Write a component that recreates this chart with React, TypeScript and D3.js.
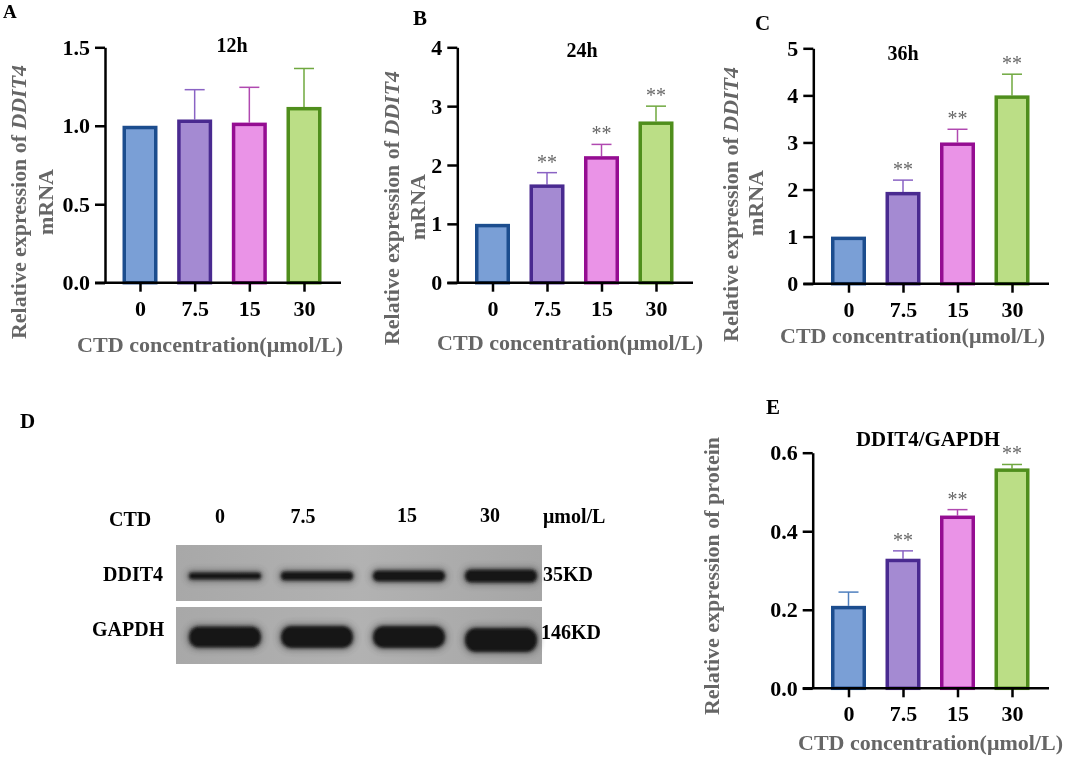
import React, { useEffect, useRef } from 'react';
import * as d3 from 'd3';

const doses = ['0', '7.5', '15', '30'];

// bar heights and the top of each error bar
const values12h = [1.0, 1.04, 1.02, 1.12];
const tops12h = [1.0, 1.23, 1.245, 1.365];
const values24h = [1.0, 1.67, 2.15, 2.74];
const tops24h = [1.0, 1.87, 2.35, 3.0];
const values36h = [1.0, 1.95, 3.0, 4.0];
const tops36h = [1.0, 2.2, 3.28, 4.45];
const valuesProtein = [0.21, 0.33, 0.44, 0.56];
const topsProtein = [0.245, 0.35, 0.455, 0.57];

const ticks12h = [0, 0.5, 1.0, 1.5];
const ticks24h = [0, 1, 2, 3, 4];
const ticks36h = [0, 1, 2, 3, 4, 5];
const ticksProtein = [0, 0.2, 0.4, 0.6];

const noStars = [false, false, false, false];
const stars = [false, true, true, true];

// band thickness on the blot
const ddit4Bands = [7, 9, 11, 13];
const gapdhBands = [21, 22, 22, 24];

const fills = ['#7a9fd6', '#a48ad2', '#ea93e7', '#bbde86'];
const strokes = ['#1f4d8e', '#4a2a90', '#951092', '#4f8e1d'];
const whiskers = ['#4f7fbe', '#8a63c4', '#b04ab0', '#6fa83f'];

const SERIF = '"Liberation Serif", serif';
const GREY = '#666666';

type PanelProps = {
	values: number[];
	tops: number[];
	ticks: number[];
	marks: boolean[];
	max: number;
	format: string;
	axisX: number;
	axisY: number;
	axisTop: number;
	first: number;
	last: number;
	right: number;
	labelY: number;
};

function Panel(p: PanelProps): JSX.Element {
	const ref = useRef<SVGGElement | null>(null);
	useEffect(() => {
		if (!ref.current) return;
		const g = d3.select(ref.current);
		g.selectAll('*').remove();
		const x = d3.scalePoint<string>().domain(doses).range([p.first, p.last]);
		const y = d3.scaleLinear().domain([0, p.max]).range([p.axisY, p.axisTop]);
		const barW = 35;
		const sw = 3.5;

		doses.forEach((d, i) => {
			const cx = x(d) as number;
			if (p.tops[i] > p.values[i]) {
				g.append('line').attr('x1', cx).attr('x2', cx).attr('y1', y(p.values[i])).attr('y2', y(p.tops[i])).attr('stroke', whiskers[i]).attr('stroke-width', 1.5);
				g.append('line').attr('x1', cx - 10).attr('x2', cx + 10).attr('y1', y(p.tops[i])).attr('y2', y(p.tops[i])).attr('stroke', whiskers[i]).attr('stroke-width', 1.5);
			}
			g.append('rect').attr('x', cx - barW / 2 + sw / 2).attr('width', barW - sw).attr('y', y(p.values[i]) + sw / 2).attr('height', p.axisY - y(p.values[i]) - sw / 2)
				.attr('fill', fills[i]).attr('stroke', strokes[i]).attr('stroke-width', sw);
			if (p.marks[i]) {
				g.append('text').attr('x', cx).attr('y', y(p.tops[i]) - 4).attr('text-anchor', 'middle').attr('fill', '#666').style('font-size', '20px').text('**');
			}
		});

		const left = d3.axisLeft(y).tickValues(p.ticks).tickFormat(d3.format(p.format) as any).tickSize(10).tickSizeOuter(0).tickPadding(5);
		const yAxis = g.append('g').attr('transform', `translate(${p.axisX},0)`).call(left as any);
		const bottom = d3.axisBottom(x).tickSize(9).tickSizeOuter(0).tickPadding(11);
		const xAxis = g.append('g').attr('transform', `translate(0,${p.axisY})`).call(bottom as any);
		xAxis.select('.domain').remove();
		g.append('line').attr('x1', p.axisX - 10).attr('x2', p.right).attr('y1', p.axisY).attr('y2', p.axisY).attr('stroke', '#000').attr('stroke-width', 2.5);
		for (const a of [yAxis, xAxis]) {
			a.selectAll('line').attr('stroke', '#000').attr('stroke-width', 2.5);
			a.selectAll('path').attr('stroke', '#000').attr('stroke-width', 2.5);
			a.selectAll('text').attr('fill', '#000').style('font-family', SERIF).style('font-weight', 'bold').style('font-size', '22px');
		}
		xAxis.selectAll('text').attr('y', p.labelY - p.axisY).attr('dy', 0);
	}, [p]);
	return <g ref={ref} />;
}

function YLabel({ x, y, length, children }: { x: number; y: number; length: number; children: React.ReactNode }): JSX.Element {
	return (
		<text transform={`translate(${x},${y}) rotate(-90)`} fill={GREY} fontWeight="bold" fontSize={21} textLength={length} lengthAdjust="spacingAndGlyphs">
			{children}
		</text>
	);
}

function Bands({ sizes, center, drop }: { sizes: number[]; center: number; drop: number }): JSX.Element {
	const lane = d3.scalePoint<string>().domain(doses).range([225, 501]);
	const bars = (grow: number, fill: string, opacity: number, filter: string) => (
		<g filter={filter} opacity={opacity}>
			{doses.map((d, i) => {
				const cx = lane(d) as number;
				const h = sizes[i] + grow;
				const cy = center + (i === 3 ? drop : 0);
				return <rect key={d} x={cx - 36 - grow / 2} width={72 + grow} y={cy - h / 2} height={h} rx={h / 2.2} fill={fill} />;
			})}
		</g>
	);
	return (
		<g>
			{bars(5, '#333', 0.45, 'url(#halo)')}
			{bars(0, '#141414', 1, 'url(#soft)')}
		</g>
	);
}

export default function App(): JSX.Element {
	const xTitle = 'CTD concentration(μmol/L)';
	return (
		<svg width={1065} height={757} viewBox="0 0 1065 757" style={{ position: 'absolute', left: 0, top: 0, background: '#fff', fontFamily: SERIF }}>
			<defs>
				<filter id="soft" x="-10%" y="-50%" width="120%" height="200%">
					<feGaussianBlur stdDeviation="1.5" />
				</filter>
				<filter id="halo" x="-10%" y="-50%" width="120%" height="200%">
					<feGaussianBlur stdDeviation="3" />
				</filter>
				<filter id="page" x="0" y="0" width="100%" height="100%" filterUnits="userSpaceOnUse" primitiveUnits="userSpaceOnUse">
					<feGaussianBlur stdDeviation="0.45" />
				</filter>
				<linearGradient id="blotTop" x1="0" x2="1" y1="0" y2="0">
					<stop offset="0" stopColor="#a8a8a8" />
					<stop offset="0.5" stopColor="#b2b2b2" />
					<stop offset="1" stopColor="#a6a6a6" />
				</linearGradient>
			</defs>

			<g filter="url(#page)">
				<Panel values={values12h} tops={tops12h} ticks={ticks12h} marks={noStars} max={1.5} format=".1f" axisX={105} axisY={282.7} axisTop={47.3} first={140} last={304} right={341} labelY={316} />
				<Panel values={values24h} tops={tops24h} ticks={ticks24h} marks={stars} max={4} format="d" axisX={457.3} axisY={282.7} axisTop={47.3} first={492.5} last={656} right={693} labelY={316} />
				<Panel values={values36h} tops={tops36h} ticks={ticks36h} marks={stars} max={5} format="d" axisX={813.3} axisY={283.7} axisTop={48.3} first={848.5} last={1012} right={1049} labelY={317} />
				<Panel values={valuesProtein} tops={topsProtein} ticks={ticksProtein} marks={stars} max={0.6} format=".1f" axisX={812.7} axisY={688.3} axisTop={452.7} first={848.5} last={1012} right={1049} labelY={721} />

				<g fontWeight="bold" fontSize={21} fill="#000">
					<text x={3} y={18} fontSize={19}>A</text>
					<text x={413} y={25}>B</text>
					<text x={755} y={30}>C</text>
					<text x={20} y={428}>D</text>
					<text x={766} y={414}>E</text>
					<text x={232} y={52} textAnchor="middle" fontSize={20}>12h</text>
					<text x={582} y={57} textAnchor="middle" fontSize={20}>24h</text>
					<text x={903} y={60} textAnchor="middle" fontSize={20}>36h</text>
					<text x={856} y={446} fontSize={20} textLength={144} lengthAdjust="spacingAndGlyphs">DDIT4/GAPDH</text>
				</g>

				<g fill={GREY} fontWeight="bold" fontSize={20}>
					<text x={77} y={352} textLength={266} lengthAdjust="spacingAndGlyphs">{xTitle}</text>
					<text x={437} y={350} textLength={266} lengthAdjust="spacingAndGlyphs">{xTitle}</text>
					<text x={780} y={343} textLength={265} lengthAdjust="spacingAndGlyphs">{xTitle}</text>
					<text x={798} y={750} textLength={265} lengthAdjust="spacingAndGlyphs">{xTitle}</text>
				</g>

				<YLabel x={26} y={339} length={274}>Relative expression of <tspan fontStyle="italic">DDIT4</tspan></YLabel>
				<text transform="translate(53,202) rotate(-90)" textAnchor="middle" fill={GREY} fontWeight="bold" fontSize={22}>mRNA</text>
				<YLabel x={399} y={345} length={274}>Relative expression of <tspan fontStyle="italic">DDIT4</tspan></YLabel>
				<text transform="translate(425,207) rotate(-90)" textAnchor="middle" fill={GREY} fontWeight="bold" fontSize={22}>mRNA</text>
				<YLabel x={738} y={342} length={275}>Relative expression of <tspan fontStyle="italic">DDIT4</tspan></YLabel>
				<text transform="translate(763,203) rotate(-90)" textAnchor="middle" fill={GREY} fontWeight="bold" fontSize={22}>mRNA</text>
				<YLabel x={719} y={715} length={278}>Relative expression of protein</YLabel>

				<rect x={176} y={545} width={366} height={56} fill="url(#blotTop)" />
				<rect x={176} y={607} width={366} height={57} fill="url(#blotTop)" />
				<Bands sizes={ddit4Bands} center={576} drop={0} />
				<Bands sizes={gapdhBands} center={637} drop={3} />

				<g fontWeight="bold" fontSize={20} fill="#000">
					<text x={109} y={526}>CTD</text>
					<text x={220} y={523} textAnchor="middle">0</text>
					<text x={303} y={523} textAnchor="middle">7.5</text>
					<text x={407} y={522} textAnchor="middle">15</text>
					<text x={490} y={522} textAnchor="middle">30</text>
					<text x={543} y={523}>μmol/L</text>
					<text x={103} y={581}>DDIT4</text>
					<text x={92} y={636}>GAPDH</text>
					<text x={543} y={581}>35KD</text>
					<text x={541} y={639}>146KD</text>
				</g>
			</g>
		</svg>
	);
}
